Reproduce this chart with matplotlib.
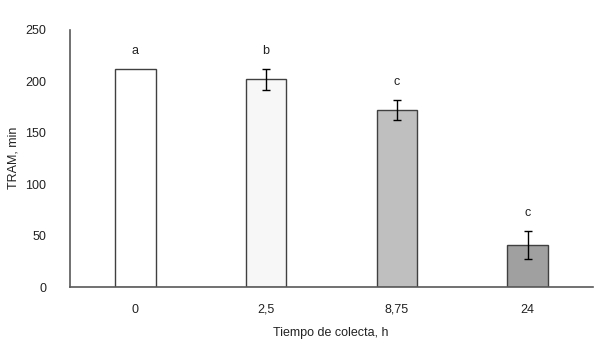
import matplotlib
matplotlib.use("Agg")
import matplotlib.pyplot as plt

categories = ["0", "2,5", "8,75", "24"]
values = [212, 202, 172, 41]
errors = [0, 10, 10, 13.5]
letters = ["a", "b", "c", "c"]
colors = ["#ffffff", "#f7f7f7", "#bfbfbf", "#a0a0a0"]

plt.rcParams['font.family'] = ['Liberation Sans', 'DejaVu Sans']
fig = plt.figure(figsize=(5.99, 3.44), dpi=100)
ax = fig.add_axes([70/599, 1-287/344, (593-70)/599, (287-30)/344])

x = list(range(len(categories)))
ax.bar(x, values, width=0.31, color=colors, edgecolor="#404040", linewidth=1.0, zorder=2)
for xi, v, e in zip(x, values, errors):
    if e > 0:
        ax.errorbar(xi, v, yerr=e, fmt="none", ecolor="black", elinewidth=1.0,
                    capsize=2.6, capthick=1.0, zorder=3)
for xi, v, e, l in zip(x, values, errors, letters):
    ax.annotate(l, (xi, v + e), xytext=(0, 11), textcoords="offset points",
                ha="center", va="baseline", fontsize=9, color="#222222")

ax.set_xlim(-0.5, 3.5)
ax.set_ylim(0, 250)
ax.set_yticks([0, 50, 100, 150, 200, 250])
ax.set_xticks(x)
ax.set_xticklabels(categories)
ax.tick_params(axis="both", length=0, labelsize=9, colors="#222222")
ax.tick_params(axis="y", pad=17)
ax.tick_params(axis="x", pad=12)
for s in ["top", "right"]:
    ax.spines[s].set_visible(False)
for s in ["left", "bottom"]:
    ax.spines[s].set_color("#595959")
    ax.spines[s].set_linewidth(1.2)
fig.text(14/599, 1-158/344, "TRAM, min", rotation=90, ha="center", va="center",
         fontsize=9, color="#222222")
fig.text(331/599, 1-333/344, "Tiempo de colecta, h", ha="center", va="center",
         fontsize=9, color="#222222")

fig.savefig("out.png", dpi=100)
